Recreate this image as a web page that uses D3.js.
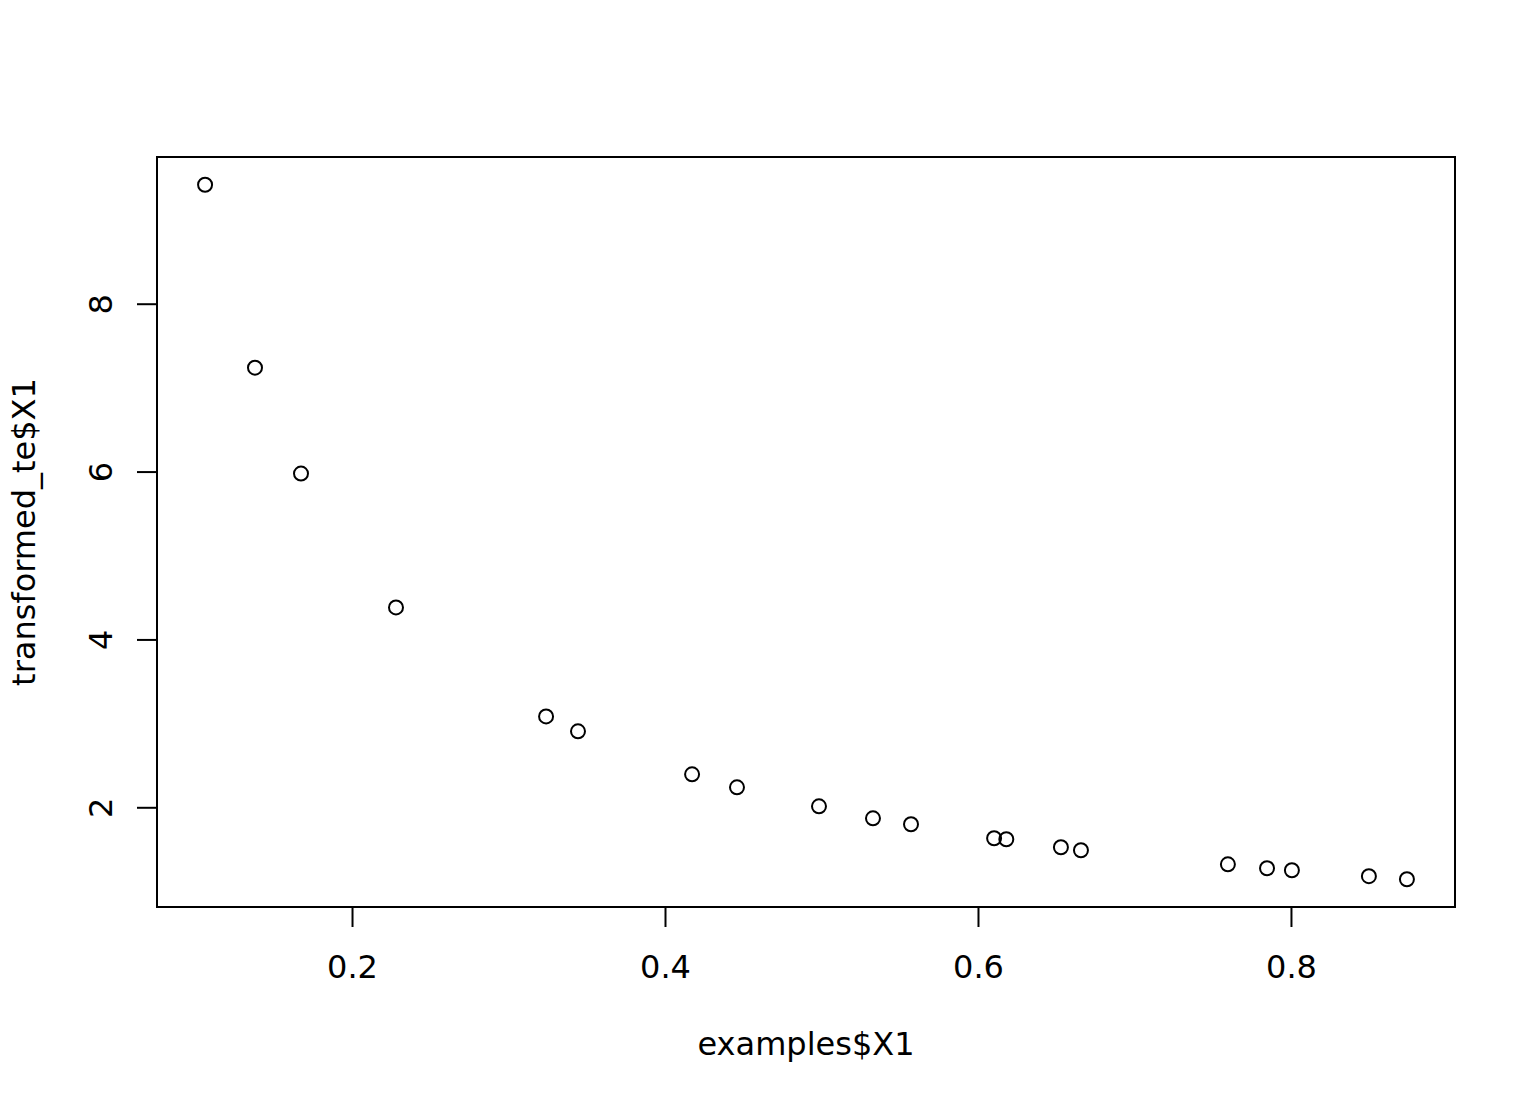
<!DOCTYPE html>
<html>
<head>
<meta charset="utf-8">
<script src="https://cdn.jsdelivr.net/npm/d3@7"></script>
<style>
  body { margin: 0; background: #fff; }
  text { font-family: "DejaVu Sans", sans-serif; }
</style>
</head>
<body>
<div id="chart"></div>
<script>
// values
const xValues = [0.1061, 0.1380, 0.1674, 0.2281, 0.3240, 0.3444, 0.4173, 0.4460, 0.4984, 0.5329,
                 0.5572, 0.6103, 0.6181, 0.6530, 0.6658, 0.7597, 0.7847, 0.8006, 0.8498, 0.8741];
const yValues = [9.417, 7.238, 5.976, 4.381, 3.083, 2.905, 2.393, 2.238, 2.012, 1.869,
                 1.798, 1.631, 1.619, 1.524, 1.488, 1.321, 1.274, 1.250, 1.179, 1.143];
const xTicks = [0.2, 0.4, 0.6, 0.8];
const yTicks = [2, 4, 6, 8];
const xLabel = "examples$X1";
const yLabel = "transformed_te$X1";

const W = 1536, H = 1104;
const box = { left: 157, right: 1455, top: 157, bottom: 907 };
const fontSize = "32px";

// R style: extend the data range by 4% on each side
function pad(ext) {
  const s = (ext[1] - ext[0]) * 0.04;
  return [ext[0] - s, ext[1] + s];
}

const x = d3.scaleLinear().domain(pad(d3.extent(xValues))).range([box.left, box.right]);
const y = d3.scaleLinear().domain(pad(d3.extent(yValues))).range([box.bottom, box.top]);

const svg = d3.select("#chart").append("svg")
  .attr("width", W)
  .attr("height", H);

svg.append("rect")
  .attr("x", box.left).attr("y", box.top)
  .attr("width", box.right - box.left).attr("height", box.bottom - box.top)
  .attr("fill", "none").attr("stroke", "#000").attr("stroke-width", 2);

const xAxis = svg.append("g")
  .attr("transform", "translate(0," + box.bottom + ")")
  .call(d3.axisBottom(x).tickValues(xTicks).tickSize(20).tickPadding(28).tickFormat(d3.format(".1f")));

const yAxis = svg.append("g")
  .attr("transform", "translate(" + box.left + ",0)")
  .call(d3.axisLeft(y).tickValues(yTicks).tickSize(20).tickFormat(d3.format("d")));

[xAxis, yAxis].forEach(function(g) {
  g.select(".domain").remove();
  g.selectAll("line").attr("stroke", "#000").attr("stroke-width", 2);
  g.selectAll("text").attr("fill", "#000").style("font-size", fontSize)
    .style("font-family", "'DejaVu Sans', sans-serif");
});

// rotated y tick labels like R's default las=0
yAxis.selectAll("text")
  .attr("x", null)
  .attr("text-anchor", "middle")
  .attr("transform", "translate(-57,0) rotate(-90)")
  .attr("dy", "0.36em");

svg.selectAll("circle.pt")
  .data(d3.zip(xValues, yValues))
  .enter().append("circle")
  .attr("class", "pt")
  .attr("cx", function(d) { return x(d[0]); })
  .attr("cy", function(d) { return y(d[1]); })
  .attr("r", 7)
  .attr("fill", "none")
  .attr("stroke", "#000")
  .attr("stroke-width", 2);

svg.append("text")
  .attr("x", (box.left + box.right) / 2)
  .attr("y", 1055)
  .attr("text-anchor", "middle")
  .style("font-size", fontSize)
  .text(xLabel);

svg.append("text")
  .attr("transform", "translate(35," + ((box.top + box.bottom) / 2) + ") rotate(-90)")
  .attr("text-anchor", "middle")
  .style("font-size", fontSize)
  .text(yLabel);
</script>
</body>
</html>
